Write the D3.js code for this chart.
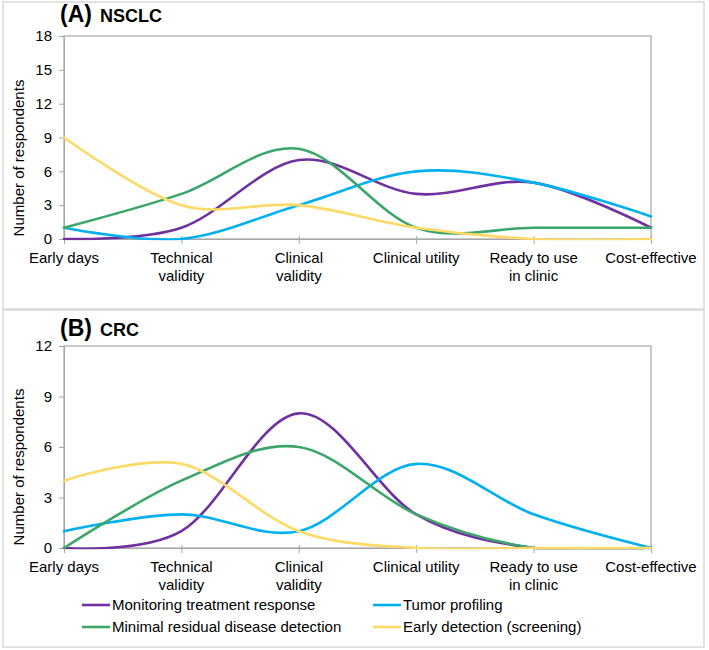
<!DOCTYPE html>
<html>
<head>
<meta charset="utf-8">
<script src="https://cdn.jsdelivr.net/npm/d3@7"></script>
<style>
  body { margin: 0; background: #fff; }
  text { font-family: "Liberation Sans", Arial, sans-serif; fill: #000; }
</style>
</head>
<body>
<div id="wrapper"></div>
<script>
const stages = ["Early days", "Technical validity", "Clinical validity", "Clinical utility", "Ready to use in clinic", "Cost-effective"];
const stageLines = [["Early days"], ["Technical", "validity"], ["Clinical", "validity"], ["Clinical utility"], ["Ready to use", "in clinic"], ["Cost-effective"]];

const seriesNames = ["Monitoring treatment response", "Tumor profiling", "Minimal residual disease detection", "Early detection (screening)"];
const seriesColors = ["#7030a0", "#00b0f0", "#3aa66a", "#ffd966"];

// NSCLC values per series (same order as seriesNames)
const nsclcMonitoring = [0, 1, 7, 4, 5, 1];
const nsclcTumor = [1, 0, 3, 6, 5, 2];
const nsclcMrd = [1, 4, 8, 1, 1, 1];
const nsclcEarly = [9, 3, 3, 1, 0, 0];
const nsclcTicks = [0, 3, 6, 9, 12, 15, 18];

// CRC values per series
const crcMonitoring = [0, 1, 8, 2, 0, 0];
const crcTumor = [1, 2, 1, 5, 2, 0];
const crcMrd = [0, 4, 6, 2, 0, 0];
const crcEarly = [4, 5, 1, 0, 0, 0];
const crcTicks = [0, 3, 6, 9, 12];

const width = 709;
const height = 650;

const svg = d3.select("#wrapper")
    .append("svg")
    .attr("width", width)
    .attr("height", height);

// outer frames of the two panels
svg.append("rect")
    .attr("x", 3).attr("y", 2).attr("width", 701).attr("height", 307)
    .attr("fill", "none").attr("stroke", "#d9d9d9").attr("stroke-width", 1.5);
svg.append("rect")
    .attr("x", 3).attr("y", 310).attr("width", 701).attr("height", 337)
    .attr("fill", "none").attr("stroke", "#d9d9d9").attr("stroke-width", 1.5);

function drawPanel(p) {
    const x = d3.scalePoint()
        .domain(stages)
        .range([64, 651]);

    const y = d3.scaleLinear()
        .domain([0, p.ticks[p.ticks.length - 1]])
        .range([p.bottom, p.top]);

    const g = svg.append("g");

    // lines are clipped to the plot area (plus half a stroke), like the spreadsheet does
    g.append("clipPath")
        .attr("id", p.clipId)
        .append("rect")
        .attr("x", 60).attr("y", p.top - 2)
        .attr("width", 651 - 60 + 4).attr("height", p.bottom - p.top + 3.3);

    // plot frame
    g.append("rect")
        .attr("x", 64).attr("y", p.top)
        .attr("width", 651 - 64).attr("height", p.bottom - p.top)
        .attr("fill", "none").attr("stroke", "#a6a6a6").attr("stroke-width", 1.2);

    const yAxis = g.append("g")
        .attr("transform", "translate(64,0)")
        .call(d3.axisLeft(y).tickValues(p.ticks).tickSize(5).tickPadding(7));
    yAxis.select(".domain").attr("stroke", "#a6a6a6");
    yAxis.selectAll(".tick line").attr("stroke", "#a6a6a6");
    yAxis.selectAll(".tick text")
        .style("font-size", "15px")
        .style("font-family", "Liberation Sans, Arial, sans-serif")
        .attr("fill", "#000");

    const xAxis = g.append("g")
        .attr("transform", `translate(0,${p.bottom})`)
        .call(d3.axisBottom(x).tickSize(5).tickFormat(""));
    xAxis.select(".domain").attr("stroke", "#a6a6a6");
    xAxis.selectAll(".tick line").attr("stroke", "#a6a6a6").attr("y1", -3);

    const labels = g.append("g").selectAll("text")
        .data(stages)
        .join("text")
        .attr("text-anchor", "middle")
        .style("font-size", "15px")
        .attr("transform", d => `translate(${x(d)},${p.bottom + 24})`);
    labels.selectAll("tspan")
        .data((d, i) => stageLines[i])
        .join("tspan")
        .attr("x", 0)
        .attr("dy", (d, i) => i === 0 ? 0 : 18)
        .text(d => d);

    g.append("text")
        .attr("transform", `translate(24,${p.labelY}) rotate(-90)`)
        .attr("text-anchor", "middle")
        .style("font-size", "15px")
        .text("Number of respondents");

    const title = g.append("text")
        .attr("x", 60)
        .attr("y", p.titleY)
        .style("font-weight", "bold");
    title.append("tspan").style("font-size", "23px").text(p.letter);
    title.append("tspan").style("font-size", "18px").attr("dx", 8).text(p.name);

    const line = d3.line()
        .x((d, i) => x(stages[i]))
        .y(d => y(d))
        .curve(d3.curveCardinal.tension(0));

    g.append("g")
        .attr("clip-path", `url(#${p.clipId})`)
        .selectAll(".series")
        .data(p.series)
        .join("path")
        .attr("class", "series")
        .attr("d", d => line(d))
        .attr("fill", "none")
        .attr("stroke", (d, i) => seriesColors[i])
        .attr("stroke-width", 2.6)
        .attr("stroke-linecap", "round");
}

drawPanel({
    letter: "(A)", name: "NSCLC", titleY: 22, clipId: "clipA",
    top: 36, bottom: 239, labelY: 158,
    ticks: nsclcTicks,
    series: [nsclcMonitoring, nsclcTumor, nsclcMrd, nsclcEarly]
});

drawPanel({
    letter: "(B)", name: "CRC", titleY: 336, clipId: "clipB",
    top: 346, bottom: 548, labelY: 467,
    ticks: crcTicks,
    series: [crcMonitoring, crcTumor, crcMrd, crcEarly]
});

// legend, two columns filled row-wise
const legendPos = [[82, 605], [373, 605], [82, 627], [373, 627]];
const legend = svg.append("g").selectAll("g")
    .data(seriesNames)
    .join("g")
    .attr("transform", (d, i) => `translate(${legendPos[i][0]},${legendPos[i][1]})`);
legend.append("line")
    .attr("x1", 0).attr("x2", 28)
    .attr("stroke", (d, i) => seriesColors[i])
    .attr("stroke-width", 2.6);
legend.append("text")
    .attr("x", 30)
    .attr("dy", "0.35em")
    .style("font-size", "15px")
    .text(d => d);
</script>
</body>
</html>
